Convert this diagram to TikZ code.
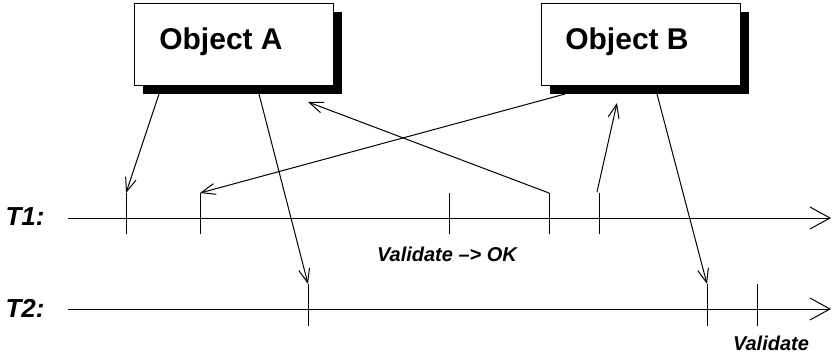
\documentclass[tikz,border=0pt]{standalone}
\usepackage{fontspec}
\setmainfont{Liberation Sans}
\usetikzlibrary{arrows.meta,shadows}

\begin{document}
\begin{tikzpicture}[x=1pt,y=-1pt,line width=1pt,
  objbox/.style={draw,fill=white,minimum width=199pt,minimum height=82pt,inner sep=0pt,
    drop shadow={shadow xshift=9pt,shadow yshift=-9pt,fill=black,opacity=1}},
  objtext/.style={inner sep=0pt,font=\fontsize{30}{32}\selectfont\bfseries},
  tlabel/.style={anchor=west,inner sep=0pt,font=\fontsize{26}{28}\selectfont\bfseries\itshape},
  note/.style={inner sep=0pt,font=\fontsize{20}{22}\selectfont\bfseries\itshape},
  msg/.style={-{Straight Barb[length=14pt,width=11pt]}},
  axis/.style={-{Straight Barb[length=20pt,width=22pt]}}]
\useasboundingbox (0,0) rectangle (833,356);
% objects
\node[objbox] (A) at (233.5,44) {};
\node[objtext] (Atext) at (221,42) {Object A};
\node[objbox] (B) at (640.5,44) {};
\node[objtext] (Btext) at (627,42) {Object B};
% time lines
\node[tlabel] (T1) at (5,217) {T1:};
\node[tlabel] (T2) at (5,308) {T2:};
\coordinate (T1s) at (68,218);
\coordinate (T1e) at (831,218);
\coordinate (T2s) at (68,309);
\coordinate (T2e) at (831,309);
\draw[axis] (T1s) -- (T1e);
\draw[axis] (T2s) -- (T2e);
% ticks on T1 and T2
\foreach \x/\n in {126/a,200/b,449/c,549/d,599/e}
  \draw (\x,193) coordinate (p\n) -- ++(0,41);
\foreach \x/\n in {308/a,707/b,757/c}
  \draw (\x,284) coordinate (q\n) -- ++(0,42);
% message ends at the objects
\coordinate (A1) at (159,94);
\coordinate (A2) at (259,94);
\coordinate (A3) at (308,102);
\coordinate (B1) at (565,94);
\coordinate (B2) at (617,103);
\coordinate (B3) at (657,94);
% messages
\draw[msg] (A1) -- (pa);
\draw[msg] (A2) -- (qa);
\draw[msg] (pd) -- (A3);
\draw[msg] (B1) -- (pb);
\draw[msg] (597,192) -- (B2);
\draw[msg] (B3) -- (qb);
% notes
\node[note] (okval) at (447,254) {Validate \textendash> OK};
\node[note] (val) at (771,343) {Validate};
\end{tikzpicture}
\end{document}
